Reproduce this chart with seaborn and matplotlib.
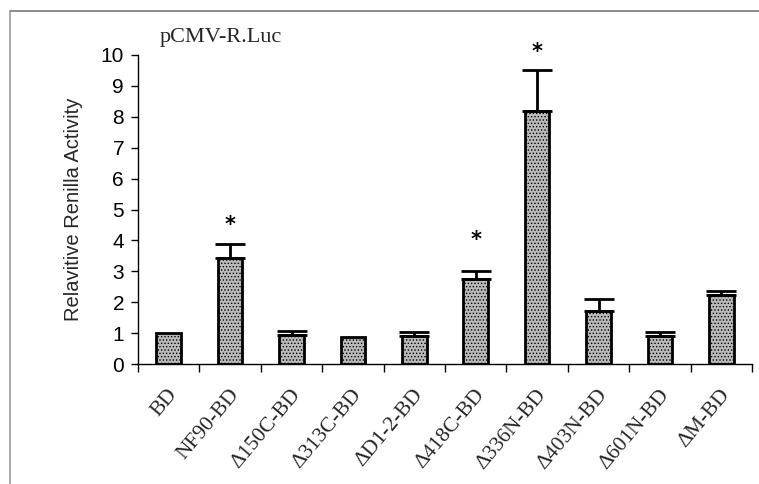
import pandas as pd
import matplotlib
matplotlib.use('Agg')
import matplotlib.pyplot as plt
import matplotlib.transforms as mtransforms
from matplotlib.lines import Line2D
import seaborn as sns

# data
constructs = ['BD', 'NF90-BD', 'Δ150C-BD', 'Δ313C-BD', 'ΔD1-2-BD',
              'Δ418C-BD', 'Δ336N-BD', 'Δ403N-BD', 'Δ601N-BD', 'ΔM-BD']
activity = [1.0, 3.42, 0.95, 0.88, 0.9, 2.74, 8.2, 1.7, 0.9, 2.22]
error_up = [0.0, 0.45, 0.13, 0.0, 0.13, 0.26, 1.32, 0.4, 0.13, 0.13]
# asterisks marking significance, placed by hand in the original
star_y = [None, 4.5, None, None, None, 4.0, 10.1, None, None, None]

df = pd.DataFrame({'construct': constructs, 'activity': activity})

sns.set_theme(style='ticks')
plt.rcParams['hatch.color'] = '#6f6f6f'
plt.rcParams['hatch.linewidth'] = 0.6

fig = plt.figure(figsize=(7.59, 4.84), dpi=100)
ax = fig.add_axes([138 / 759, 1 - 364 / 484, (752 - 138) / 759, (364 - 55) / 484])

sns.barplot(data=df, x='construct', y='activity', color='#bababa', saturation=1,
            width=0.4, edgecolor='black', linewidth=2, ax=ax)
for bar in ax.patches:
    bar.set_hatch('.....')

# one-sided error bars
for i, (v, e) in enumerate(zip(activity, error_up)):
    if e > 0:
        ax.errorbar(i, v, yerr=[[0], [e]], fmt='none', ecolor='black',
                    elinewidth=2, capsize=11, capthick=2, zorder=3)
    if star_y[i] is not None:
        ax.text(i, star_y[i], '*', ha='center', va='center', fontsize=15,
                fontweight='bold', color='black', clip_on=False)

ax.set_ylim(0, 10)
ax.set_xlim(-0.5, len(constructs) - 0.5)
ax.set_yticks(range(0, 11))
ax.tick_params(axis='y', labelsize=15, length=5, width=1, colors='black', pad=5)
for t in ax.get_yticklabels():
    t.set_fontfamily(['Liberation Sans', 'DejaVu Sans'])

# x tick marks between categories, labels at the centres
ax.set_xticks([i - 0.5 for i in range(len(constructs) + 1)], minor=True)
ax.tick_params(axis='x', which='minor', length=6, width=1, color='black')
ax.tick_params(axis='x', which='major', length=0, pad=20)
ax.set_xticklabels(constructs, rotation=50, ha='right', va='center',
                   rotation_mode='anchor', fontsize=15.5,
                   fontfamily=['Liberation Serif', 'DejaVu Serif'])
offset = mtransforms.ScaledTranslation(4 / 72, 0, fig.dpi_scale_trans)
for t in ax.get_xticklabels():
    t.set_transform(t.get_transform() + offset)

ax.set_xlabel('')
ax.set_ylabel('Relavitive Renilla Activity', fontsize=14.5,
              fontfamily=['Liberation Sans', 'DejaVu Sans'], labelpad=13)
for s in ['left', 'bottom']:
    ax.spines[s].set_color('black')
    ax.spines[s].set_linewidth(1)
sns.despine(ax=ax)

ax.text(0.035, 1.058, 'pCMV-R.Luc', transform=ax.transAxes, fontsize=16,
        fontfamily=['Liberation Serif', 'DejaVu Serif'], va='center', ha='left')

# outer frame of the scanned figure
fig.add_artist(Line2D([10 / 759, 1], [1 - 11 / 484, 1 - 11 / 484],
                      transform=fig.transFigure, color='#777777', lw=1.2))
fig.add_artist(Line2D([10 / 759, 10 / 759], [0, 1 - 11 / 484],
                      transform=fig.transFigure, color='#999999', lw=1.2))

fig.savefig('out.png', dpi=100)
